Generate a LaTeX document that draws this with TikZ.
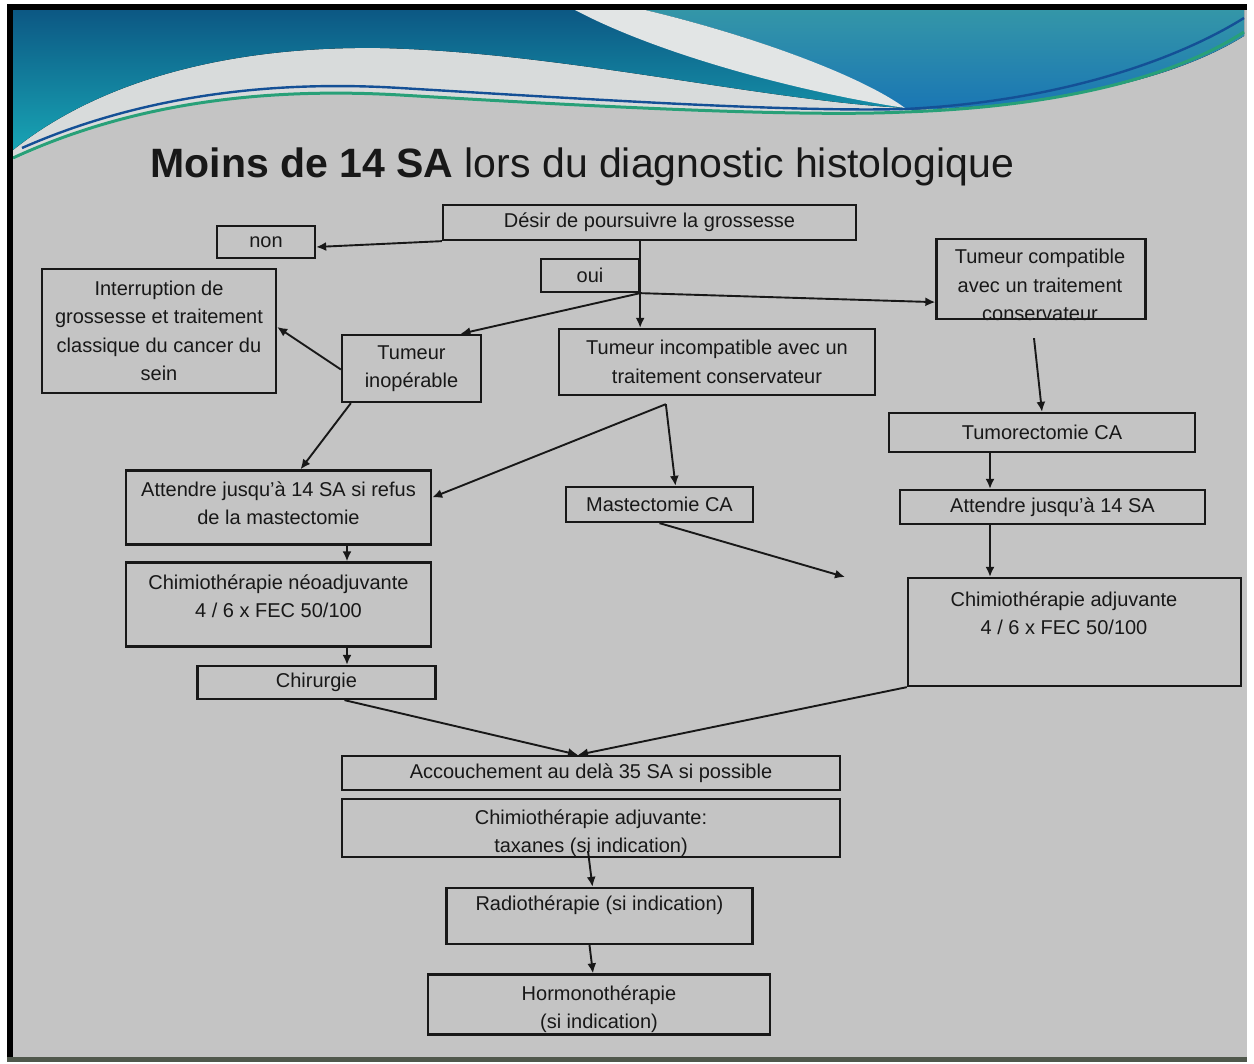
\documentclass[tikz,border=0pt]{standalone}
\usepackage{fontspec}
\setmainfont{Liberation Sans}
\usetikzlibrary{arrows.meta,calc}

\definecolor{slide}{RGB}{196,196,196}
\definecolor{ink}{RGB}{24,24,24}
\definecolor{navy}{RGB}{12,88,132}
\definecolor{tealA}{RGB}{24,164,180}
\definecolor{tealB}{RGB}{52,150,168}
\definecolor{blueB}{RGB}{26,118,180}
\definecolor{band}{RGB}{216,219,219}
\definecolor{swoosh}{RGB}{226,229,229}
\definecolor{waveGreen}{RGB}{40,160,120}
\definecolor{waveBlue}{RGB}{20,80,150}
\definecolor{rimdark}{RGB}{80,88,76}

\newcommand\boxfont{\fontsize{10}{14.2}\selectfont}
\newcommand\titlefont{\fontsize{20.5}{24}\selectfont}

\tikzset{
  box/.style={draw=ink, line width=1.15pt, inner sep=0pt, align=center,
              font=\boxfont, text=ink},
  lbl/.style={inner sep=0pt, align=center, font=\boxfont, text=ink},
  sz/.style 2 args={minimum width=#1*0.5pt, minimum height=#2*0.5pt},
  conn/.style={draw=ink, line width=0.95pt, -{Latex[length=5pt,width=4.5pt]}},
}

\begin{document}
\begin{tikzpicture}[x=0.5pt,y=-0.5pt]
\useasboundingbox (0,0) rectangle (1254,1064);
\fill[white] (0,0) rectangle (1254,1064);
\fill[slide] (7,4) rectangle (1247,1061);

% ---- header waves ----
\fill[band] (13,10) -- (1244,10) -- (1244,32)
  .. controls (1170,80) and (1050,108) .. (905,113)
  .. controls (800,118) and (600,108) .. (400,96)
  .. controls (260,88) and (130,105) .. (13,160) -- cycle;
\fill[top color=navy, bottom color=tealA] (13,10) -- (645,10)
  .. controls (750,35) and (860,75) .. (905,108)
  .. controls (760,100) and (560,52) .. (380,48)
  .. controls (230,46) and (100,80) .. (13,150) -- cycle;
\fill[top color=tealB, bottom color=blueB] (645,10) -- (1244,10) -- (1244,36)
  .. controls (1170,82) and (1050,106) .. (905,110)
  .. controls (860,75) and (750,35) .. (645,10) -- cycle;
\fill[swoosh] (575,10) -- (645,10)
  .. controls (750,35) and (860,75) .. (905,108)
  .. controls (800,92) and (660,55) .. (575,10) -- cycle;
\draw[waveGreen, line width=1.5pt] (13,158)
  .. controls (130,104) and (260,87) .. (400,95)
  .. controls (600,107) and (800,117) .. (905,112)
  .. controls (1050,107) and (1170,80) .. (1244,32);
\draw[waveBlue, line width=1.2pt] (22,148)
  .. controls (140,96) and (270,80) .. (400,88)
  .. controls (600,100) and (790,112) .. (905,109)
  .. controls (1050,102) and (1170,64) .. (1244,18);

% ---- frame ----
\fill[black] (7,4) rectangle (13,1061);
\fill[black] (7,4) rectangle (1247,10);
\fill[rimdark] (7,1057) rectangle (1247,1062);

% ---- title ----
\node[anchor=base west, font=\titlefont, text=ink, inner sep=0pt] (title) at (150,178)
  {\textbf{Moins de 14 SA} lors du diagnostic histologique};

% ---- boxes ----
\node[box, sz={413}{35}] (desir) at (649.5,222.5) {Désir de poursuivre la grossesse};
\node[box, sz={98}{32}] (non) at (266,242) {non};
\node[box, sz={98}{33}] (oui) at (590,275.5) {oui};
\node[box, sz={234}{124}] (interr) at (159,331)
  {Interruption de\\grossesse et traitement\\classique du cancer du\\sein};
\node[box, sz={209}{80}] (compat) at (1041,279) {};
\node[lbl] (compat-t) at (1040,285) {Tumeur compatible\\avec un traitement\\conservateur};
\node[box, sz={139}{67}] (inop) at (411.5,368.5) {Tumeur\\inopérable};
\node[box, sz={316}{66}] (incomp) at (717,362)
  {Tumeur incompatible avec un\\traitement conservateur};
\node[box, sz={306}{39}] (tumor) at (1042,432.5) {Tumorectomie CA};
\node[box, sz={305}{74}] (attrefus) at (278.5,507.5) {};
\node[lbl] (attrefus-t) at (278.5,503)
  {Attendre jusqu’à 14 SA si refus\\de la mastectomie};
\node[box, sz={187}{35}] (masto) at (659.5,504.5) {Mastectomie CA};
\node[box, sz={305}{34}] (att14) at (1052.5,507) {Attendre jusqu’à 14 SA};
\node[box, sz={305}{84}] (chimneo) at (278.5,604.5) {};
\node[lbl] (chimneo-t) at (278.5,596) {Chimiothérapie néoadjuvante\\4 / 6 x FEC 50/100};
\node[box, sz={333}{108}] (chimadj) at (1074.5,632) {};
\node[lbl] (chimadj-t) at (1064,613) {Chimiothérapie adjuvante\\4 / 6 x FEC 50/100};
\node[box, sz={238}{33}] (chir) at (316.5,682.5) {Chirurgie};
\node[box, sz={498}{34}] (acc) at (591,773) {Accouchement au delà 35 SA si possible};
\node[box, sz={498}{58}] (tax) at (591,828) {};
\node[lbl] (tax-t) at (591,833) {Chimiothérapie adjuvante:\\taxanes (si indication)};
\node[box, sz={306}{56}] (radio) at (599.5,916) {};
\node[lbl] (radio-t) at (599.5,905) {Radiothérapie (si indication)};
\node[box, sz={342}{60}] (hormo) at (599,1004.5) {};
\node[lbl] (hormo-t) at (599,1009) {Hormonothérapie\\(si indication)};

% ---- connectors ----
\draw[conn] (desir.south west) -- ($(non.east)+(0,5)$);
\draw[conn] (oui.east |- desir.south) -- (oui.east |- incomp.north);
\coordinate (j1) at (oui.south east);
\draw[conn] (j1) -- ($(inop.north)+(49,0)$);
\draw[conn] (j1) -- ($(compat.south west)+(0,-18)$);
\draw[conn] ($(inop.west)+(0,1)$) -- ($(interr.east)+(0,-4)$);
\draw[conn] ($(inop.south west)+(10,0)$) -- ($(attrefus.north)+(22,0)$);
\coordinate (j2) at ($(incomp.south west)+(108,8)$);
\draw[conn] (j2) -- ($(attrefus.east)+(0,-10)$);
\draw[conn] (j2) -- ($(masto.north)+(16,0)$);
\draw[conn] ($(compat.south)+(-7,18)$) -- (tumor.north);
\coordinate (colR) at (990,0);
\draw[conn] (tumor.south -| colR) -- (att14.north -| colR);
\draw[conn] (att14.south -| colR) -- (chimadj.north -| colR);
\coordinate (mfree) at (845,577);
\draw[conn] (masto.south) -- (mfree);
\coordinate (colL) at (347,0);
\draw[conn] (attrefus.south -| colL) -- (chimneo.north -| colL);
\draw[conn] (chimneo.south -| colL) -- (chir.north -| colL);
\coordinate (meet) at ($(acc.north)+(-13,0)$);
\draw[conn] ($(chir.south)+(28,0)$) -- (meet);
\draw[conn] (chimadj.south west) -- (meet);
\draw[conn] ($(tax.south)+(-3,-7)$) -- ($(radio.north)+(-7,0)$);
\draw[conn] ($(radio.south)+(-10,0)$) -- ($(hormo.north)+(-6,0)$);
\end{tikzpicture}
\end{document}
